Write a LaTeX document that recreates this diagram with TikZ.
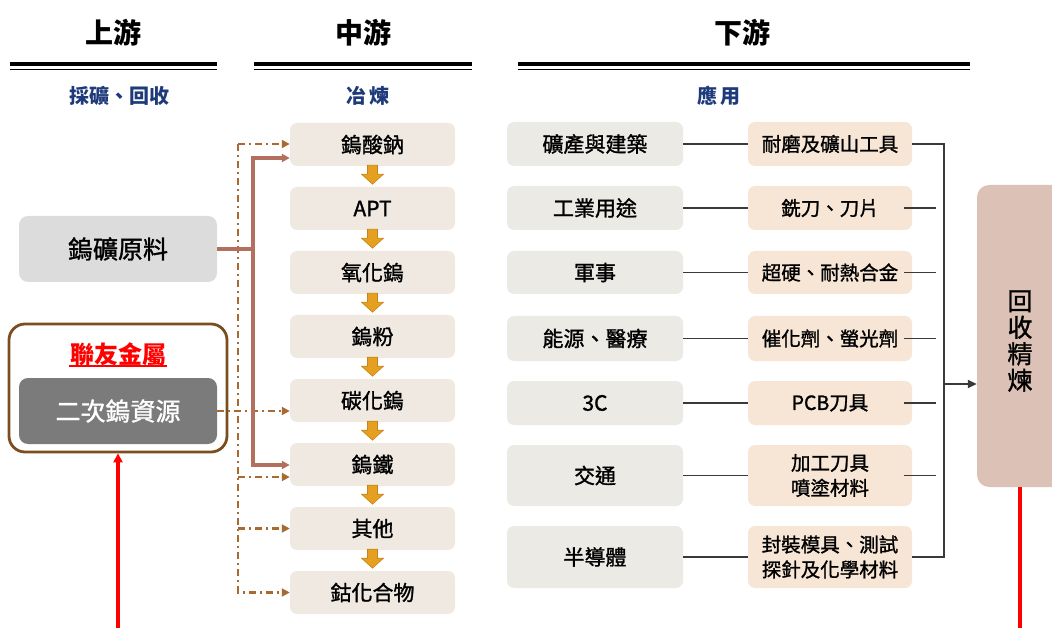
\documentclass[tikz,border=0pt]{standalone}
\usepackage{fontspec}
\setmainfont{Noto Sans CJK TC}
\newfontfamily\medf{Noto Sans CJK TC}[FakeBold=1.3]
\usetikzlibrary{arrows.meta,calc}
\definecolor{navy}{HTML}{1F3A7A}
\definecolor{mfill}{HTML}{EFE9E2}
\definecolor{afill}{HTML}{ECEAE5}
\definecolor{bfill}{HTML}{F7E6D6}
\definecolor{recfill}{HTML}{DBC1B6}
\definecolor{orefill}{HTML}{DCDCDC}
\definecolor{secfill}{HTML}{7B7B7B}
\definecolor{outerc}{HTML}{7A4E1E}
\definecolor{solidc}{HTML}{B4705E}
\definecolor{ddc}{HTML}{A86A30}
\definecolor{orf}{HTML}{E6A020}
\definecolor{ord}{HTML}{C8841A}
\definecolor{lnc}{HTML}{3A3A3A}
\definecolor{redc}{HTML}{FF0000}
\begin{document}
\begin{tikzpicture}[x=1pt,y=-1pt,
  hdr/.style={font=\bfseries\fontsize{28}{30}\selectfont, inner sep=0},
  sub/.style={font=\bfseries\fontsize{20}{22}\selectfont, text=navy, inner sep=0},
  mbox/.style={fill=mfill, rounded corners=7, minimum width=165, minimum height=43, inner sep=0, font=\medf\fontsize{21}{23}\selectfont},
  abox/.style={fill=afill, rounded corners=7, minimum width=176, inner sep=0, font=\medf\fontsize{21}{23}\selectfont},
  bbox/.style={fill=bfill, rounded corners=7, minimum width=164, inner sep=0, align=center, font=\medf\fontsize{19.5}{25}\selectfont},
  orebox/.style={fill=orefill, rounded corners=9, minimum width=198, minimum height=66, inner sep=0, font=\medf\fontsize{25}{27}\selectfont},
  secbox/.style={fill=secfill, rounded corners=9, minimum width=198, minimum height=66, inner sep=0, text=white, font=\medf\fontsize{25}{27}\selectfont},
  outerbox/.style={draw=outerc, line width=2.8, rounded corners=16, minimum width=218, minimum height=128, inner sep=0, fill=white},
  recbox/.style={fill=recfill, rounded corners=12, minimum width=130, minimum height=302, inner sep=0},
  solidln/.style={draw=solidc, line width=3.4},
  ddln/.style={draw=ddc, line width=2.2, dash pattern=on 7pt off 4pt on 2pt off 4pt},
  tipb/.style={-{Triangle[length=8pt,width=8pt]}},
  ln/.style={draw=lnc, line width=1.6},
  redln/.style={draw=redc, line width=3.2},
  orarrow/.style={fill=orf, draw=ord, line width=0.6, line join=miter}
]
\useasboundingbox (0,0) rectangle (1052,628);
\clip (0,0) rectangle (1052,628);

% headers
\node[hdr] (h1) at (113,33) {上游};
\node[hdr] (h2) at (363,33) {中游};
\node[hdr] (h3) at (742,33) {下游};
\foreach \xa/\xb in {10/217, 254/472, 518/970} {
  \draw[line width=4.5] (\xa,64) -- (\xb,64);
  \draw[line width=1.2] (\xa,69.5) -- (\xb,69.5);
}
\node[sub] (s1) at (119,96) {採礦、回收};
\node[sub] (s2) at (368,96) {冶\,煉};
\node[sub] (s3) at (719,96) {應\,用};

% upstream
\node[orebox] (ore) at (118,249) {鎢礦原料};
\node[outerbox] (outer) at (118,388) {};
\node[inner sep=1pt, text=redc, font=\bfseries\fontsize{24}{26}\selectfont] (lyt) at (118,354) {聯友金屬};
\draw[redc, line width=1.6] ([yshift=1]lyt.south west) -- ([yshift=1]lyt.south east);
\node[secbox] (sec) at (118,411) {二次鎢資源};
\coordinate (rb) at (118,640);
\draw[redln, -{Triangle[length=9pt,width=9pt]}] (rb) -- (outer.south);

% midstream boxes
\foreach \i/\t in {1/鎢酸鈉,2/APT,3/氧化鎢,4/鎢粉,5/碳化鎢,6/鎢鐵,7/其他,8/鈷化合物} {
  \node[mbox] (m\i) at (372.5,{144.5+64*(\i-1)}) {\t};
}
\foreach \i in {1,...,7} {
  \path (m\i.south) coordinate (t\i);
  \draw[orarrow] ($(t\i)+(-5,-1)$) -- ($(t\i)+(5,-1)$) -- ($(t\i)+(5,8)$) -- ($(t\i)+(11,8)$)
     -- ($(t\i)+(0,18)$) -- ($(t\i)+(-11,8)$) -- ($(t\i)+(-5,8)$) -- cycle;
}

% dash-dot connectors
\coordinate (dv) at (238,144);
\coordinate (d6) at (238,477);
\draw[ddln, tipb] (dv) -- (dv -| m1.west);
\draw[ddln, tipb] (dv) |- (m8.west);
\draw[ddln, tipb] (d6) -- (d6 -| m6.west);
\draw[ddln, tipb] (dv |- m7.west) -- (m7.west);
\draw[ddln, tipb] (sec.east) -- (sec.east -| m5.west);

% solid connectors
\coordinate (sj) at (253,249);
\coordinate (s1a) at (253,158);
\coordinate (s6a) at (253,465);
\draw[solidln] (ore.east) -- (sj);
\draw[solidln, tipb] (sj) -- (s1a) -- (s1a -| m1.west);
\draw[solidln, tipb] (sj) -- (s6a) -- (s6a -| m6.west);

% downstream
\foreach \i/\a/\b/\y/\h in {
  1/礦產與建築/耐磨及礦山工具/144/44,
  2/工業用途/銑刀、刀片/208/44,
  3/軍事/超硬、耐熱合金/272.5/43,
  4/能源、醫療/催化劑、螢光劑/338.5/45,
  5/3C/PCB刀具/403/44,
  6/交通/{加工刀具\\噴塗材料}/475.5/61,
  7/半導體/{封裝模具、測試\\探針及化學材料}/557/62} {
  \node[abox, minimum height=\h] (a\i) at (595,\y) {\a};
  \node[bbox, minimum height=\h] (b\i) at (830,\y) {\b};
  \draw[ln] (a\i.east) -- (b\i.west);
}
\foreach \i in {2,...,6} {
  \draw[ln] ($(b\i.east)+(-8,0)$) -- ($(b\i.east)+(24,0)$);
}
\node[recbox] (rec) at (1042,336) {};
\node[inner sep=0, align=center, font=\medf\fontsize{25}{26.5}\selectfont] (rect) at (1020,341) {回\\收\\精\\煉};
\coordinate (bx) at (944,384);
\draw[ln] (b1.east) -| (bx) |- (b7.east);
\draw[ln, -{Triangle[length=9pt,width=8pt]}] (bx) -- (bx -| rec.west);
\coordinate (rr) at (1020,640);
\draw[redln] (rec.south -| rr) -- (rr);
\end{tikzpicture}
\end{document}
